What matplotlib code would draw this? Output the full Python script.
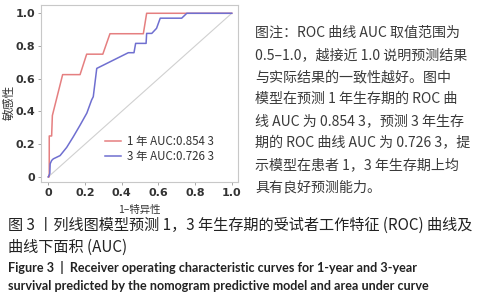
import matplotlib.pyplot as plt

plt.rcParams['font.family'] = ['Noto Sans CJK SC', 'DejaVu Sans']

# ROC curve for 1-year survival
fpr_1y = [0.0, 0.005, 0.005, 0.018, 0.022, 0.078, 0.173, 0.209, 0.297, 0.336, 0.518, 0.536, 1.0]
tpr_1y = [0.0, 0.0, 0.25, 0.25, 0.375, 0.625, 0.625, 0.75, 0.75, 0.875, 0.875, 1.0, 1.0]

# ROC curve for 3-year survival
fpr_3y = [0.0, 0.008, 0.01, 0.018, 0.027, 0.064, 0.1, 0.136, 0.173, 0.21, 0.236, 0.245,
          0.264, 0.436, 0.467, 0.476, 0.533, 0.536, 0.564, 0.59, 0.61, 0.727, 0.755, 1.0]
tpr_3y = [0.0, 0.02, 0.08, 0.10, 0.11, 0.13, 0.18, 0.245, 0.316, 0.39, 0.47, 0.49,
          0.663, 0.759, 0.759, 0.816, 0.816, 0.877, 0.877, 0.908, 0.97, 0.97, 1.0, 1.0]

label_1y = '1 年 AUC:0.854 3'
label_3y = '3 年 AUC:0.726 3'
ticks = [0, 0.2, 0.4, 0.6, 0.8, 1.0]
tick_labels = ['0', '0.2', '0.4', '0.6', '0.8', '1.0']

note_lines = [
    '图注：ROC 曲线 AUC 取值范围为',
    '0.5–1.0，越接近 1.0 说明预测结果',
    '与实际结果的一致性越好。图中',
    '模型在预测 1 年生存期的 ROC 曲',
    '线 AUC 为 0.854 3，预测 3 年生存',
    '期的 ROC 曲线 AUC 为 0.726 3，提',
    '示模型在患者 1，3 年生存期上均',
    '具有良好预测能力。',
]
caption_cn = ['图 3 丨列线图模型预测 1，3 年生存期的受试者工作特征 (ROC) 曲线及',
              '曲线下面积 (AUC)']
caption_en = ['Figure 3  |  Receiver operating characteristic curves for 1-year and 3-year',
              'survival predicted by the nomogram predictive model and area under curve']

fig = plt.figure(figsize=(4.84, 3.0), dpi=100)
ax = fig.add_axes([0.0847, 0.393, 0.407, 0.59])

ax.plot([0, 1], [0, 1], color='#d0d0d0', linewidth=0.8)
ax.plot(fpr_1y, tpr_1y, color='#e57f80', linewidth=1.1, label=label_1y)
ax.plot(fpr_3y, tpr_3y, color='#6f6fd0', linewidth=1.1, label=label_3y)

ax.set_xlim(-0.04, 1.034)
ax.set_ylim(-0.032, 1.05)
ax.set_xticks(ticks)
ax.set_xticklabels(tick_labels)
ax.set_yticks(ticks)
ax.set_yticklabels(tick_labels)
ax.tick_params(length=2.5, width=0.6, color='#999999', labelcolor='#333333',
               labelsize=8, pad=1.5)
for lab in ax.get_xticklabels() + ax.get_yticklabels():
    lab.set_fontweight('bold')
    lab.set_family(['DejaVu Sans'])
for sp in ax.spines.values():
    sp.set_color('#c8c8c8')
    sp.set_linewidth(0.8)

ax.set_xlabel('1–特异性', fontsize=7.5, color='#333333')
ax.xaxis.set_label_coords(0.5, -0.13)
ax.set_ylabel('敏感性', fontsize=8.5, color='#333333', fontweight='medium')
ax.yaxis.set_label_coords(-0.13, 0.45)

leg = ax.legend(loc='lower right', bbox_to_anchor=(0.93, 0.05), frameon=False,
                fontsize=8.3, handlelength=1.4, handletextpad=0.5, labelspacing=0.2)
for t in leg.get_texts():
    t.set_color('#333333')

for i, line in enumerate(note_lines):
    fig.text(255 / 484, 1 - (33 + i * 22.1) / 300, line, fontsize=10.1,
             color='#3a3a3a', ha='left', va='center')

for i, line in enumerate(caption_cn):
    fig.text(8 / 484, 1 - (225 + i * 22) / 300, line, fontsize=10.9,
             color='#222222', ha='left', va='center', fontweight='medium')

for i, line in enumerate(caption_en):
    fig.text(8 / 484, 1 - (267 + i * 19) / 300, line, fontsize=9.1,
             color='#222222', ha='left', va='center', fontweight='bold',
             family=['Lato', 'DejaVu Sans'])

fig.savefig('out.png', dpi=100)
